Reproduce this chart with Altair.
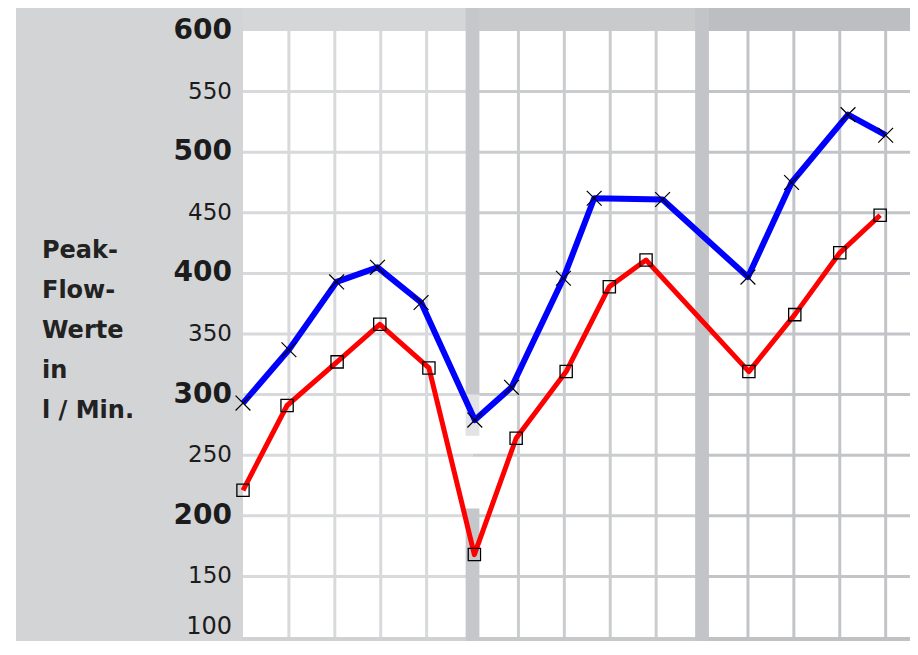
import altair as alt
import pandas as pd

# ---- data ----
MAJOR_TICKS = [200, 300, 400, 500, 600]
MINOR_TICKS = [150, 250, 350, 450, 550]
BOTTOM_TICK = [100]
GRID_Y = [150, 200, 250, 300, 350, 400, 450, 500, 550]
GRID_X = [1, 2, 3, 4, 6, 7, 8, 9, 11, 12, 13, 14]
SEPARATORS = [5, 10]

blue_x = [0, 1.0, 2.04, 2.93, 3.88, 5.05, 5.85, 6.98, 7.65, 9.14, 11.0, 11.95, 13.18, 14.0]
blue_y = [293, 337, 393, 405, 376, 279, 306, 396, 462, 461, 397, 475, 531, 514]

red_x = [0, 0.96, 2.05, 2.98, 4.05, 5.04, 5.95, 7.04, 7.98, 8.78, 11.02, 12.02, 13.0, 13.88]
red_y = [221, 291, 327, 358, 322, 168, 264, 319, 389, 411, 319, 366, 417, 448]

TITLE_LINES = ["Peak-", "Flow-", "Werte", "in", "l / Min."]

# ---- layout ----
W, H = 667, 606
X_MAX = 14.53
x_scale = alt.Scale(domain=[0, X_MAX], nice=False, zero=False)
y_scale = alt.Scale(domain=[100, 600], nice=False, zero=False)

one = pd.DataFrame({"a": [0]})

def X(f="x"):
    return alt.X(f"{f}:Q", scale=x_scale, axis=None)

def Y(f="y"):
    return alt.Y(f"{f}:Q", scale=y_scale, axis=None)

# outer grey panel
panel = alt.Chart(one).mark_rect(color="#d3d4d6").encode(
    x=alt.value(-227), x2=alt.value(W), y=alt.value(-24), y2=alt.value(H + 4)
)

# section shading (top/bottom bands) per section
sections = [(0, 5, "#d5d6d8", "#d0d1d3"), (5, 10, "#c9cacc", "#c7c8ca"), (10, X_MAX, "#bdbec1", "#c0c1c3")]
band_rows = []
for x0, x1, ctop, cbot in sections:
    band_rows.append({"x": x0, "x2": x1, "y": 600, "y2": 621, "c": ctop})
    band_rows.append({"x": x0, "x2": x1, "y": 100, "y2": 96, "c": cbot})
bands = alt.Chart(pd.DataFrame(band_rows)).mark_rect().encode(
    x=X(), x2="x2:Q", y=Y(), y2="y2:Q", color=alt.Color("c:N", scale=None),
)

# white plotting field
field = alt.Chart(pd.DataFrame({"x": [0], "x2": [X_MAX], "y": [100], "y2": [600]})).mark_rect(
    color="#ffffff"
).encode(x=X(), x2="x2:Q", y=Y(), y2="y2:Q")

# gridlines (colour per section)
hrows = []
for x0, x1, _, _ in sections:
    col = {0: "#d8d9db", 5: "#cbccce", 10: "#c3c4c7"}[x0]
    for v in GRID_Y:
        hrows.append({"x": x0, "x2": x1, "y": v, "c": col})
hgrid = alt.Chart(pd.DataFrame(hrows)).mark_rule(strokeWidth=3).encode(
    x=X(), x2="x2:Q", y=Y(), color=alt.Color("c:N", scale=None),
)
vrows = []
for g in GRID_X:
    col = "#d8d9db" if g < 5 else ("#cbccce" if g < 10 else "#c3c4c7")
    vrows.append({"x": g, "y": 100, "y2": 600, "c": col})
vgrid = alt.Chart(pd.DataFrame(vrows)).mark_rule(strokeWidth=3).encode(
    x=X(), y=Y(), y2="y2:Q", color=alt.Color("c:N", scale=None),
)

# thick separators (first one partly erased around the dip)
sep_rows = [
    {"x": SEPARATORS[0] - 0.15, "x2": SEPARATORS[0] + 0.15, "y": 300, "y2": 621, "c": "#c6c7ca"},
    {"x": SEPARATORS[0] - 0.15, "x2": SEPARATORS[0] + 0.15, "y": 266, "y2": 300, "c": "#e2e3e5"},
    {"x": SEPARATORS[0] - 0.15, "x2": SEPARATORS[0] + 0.15, "y": 96, "y2": 206, "c": "#c6c7ca"},
    {"x": SEPARATORS[1] - 0.15, "x2": SEPARATORS[1] + 0.15, "y": 96, "y2": 621, "c": "#c3c4c7"},
]
seps = alt.Chart(pd.DataFrame(sep_rows)).mark_rect().encode(
    x=X(), x2="x2:Q", y=Y(), y2="y2:Q", color=alt.Color("c:N", scale=None),
)

# y tick labels as text
major_lab = alt.Chart(pd.DataFrame({"y": MAJOR_TICKS})).mark_text(
    align="right", baseline="middle", font="DejaVu Sans", fontSize=28, fontWeight="bold",
    color="#1c1c1c",
).encode(x=alt.value(-11), y=Y(), text=alt.Text("y:Q"))
minor_lab = alt.Chart(pd.DataFrame({"y": MINOR_TICKS})).mark_text(
    align="right", baseline="middle", font="DejaVu Sans", fontSize=23, fontWeight="normal",
    color="#1c1c1c",
).encode(x=alt.value(-11), y=Y(), text=alt.Text("y:Q"))
bottom_lab = alt.Chart(pd.DataFrame({"y": BOTTOM_TICK})).mark_text(
    align="right", baseline="bottom", dy=2, font="DejaVu Sans", fontSize=24,
    fontWeight="normal", color="#1c1c1c",
).encode(x=alt.value(-11), y=Y(), text=alt.Text("y:Q"))

# axis title
title = alt.Chart(one).mark_text(
    text=TITLE_LINES, align="left", baseline="alphabetic", lineHeight=40,
    font="DejaVu Sans", fontSize=24, fontWeight="bold", color="#222222",
).encode(x=alt.value(-201), y=alt.value(227))

blue_df = pd.DataFrame({"x": blue_x, "y": blue_y})
red_df = pd.DataFrame({"x": red_x, "y": red_y})

blue_line = alt.Chart(blue_df).mark_line(color="#0000ff", strokeWidth=6, strokeJoin="round").encode(
    x=X(), y=Y()
)
red_line = alt.Chart(red_df).mark_line(color="#ff0000", strokeWidth=5, strokeJoin="round").encode(
    x=X(), y=Y()
)

blue_pts = alt.Chart(blue_df).mark_point(
    shape="M-1,-1L1,1M1,-1L-1,1", filled=False, color="#000000", strokeWidth=1.2, size=220, opacity=1
).encode(x=X(), y=Y())
red_pts = alt.Chart(red_df).mark_point(
    shape="square", filled=False, color="#000000", strokeWidth=1.3, size=150, opacity=1
).encode(x=X(), y=Y())

chart = alt.layer(
    panel, bands, field, hgrid, vgrid, seps, major_lab, minor_lab, bottom_lab, title,
    red_line, blue_line, red_pts, blue_pts
).properties(
    width=W, height=H,
    autosize=alt.AutoSizeParams(type="none"),
    padding={"left": 235, "top": 23, "right": 0, "bottom": 4},
    background="#ffffff",
).configure_view(stroke=None)

chart.save("out.html", embed_options={"renderer": "svg", "actions": False})
